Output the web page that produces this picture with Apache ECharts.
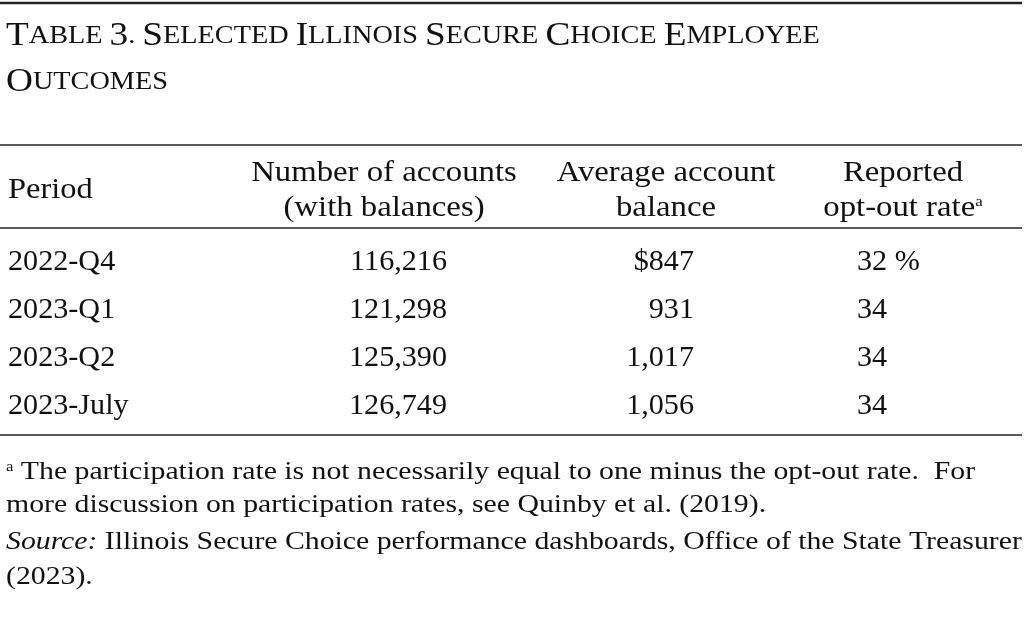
<!DOCTYPE html>
<html>
<head>
<meta charset="utf-8">
<script src="https://cdn.jsdelivr.net/npm/echarts@6/dist/echarts.min.js"></script>
<style>html,body{margin:0;padding:0;background:#fff}#main{width:1024px;height:624px}</style>
</head>
<body>
<div id="main"></div>
<script>
// table content
var titleLines = ['Table 3. Selected Illinois Secure Choice Employee', 'Outcomes'];
var periods = ['2022-Q4', '2023-Q1', '2023-Q2', '2023-July'];
var accounts = ['116,216', '121,298', '125,390', '126,749'];
var balances = ['$847', '931', '1,017', '1,056'];
var optOut = ['32 %', '34', '34', '34'];
var notes = [
    'The participation rate is not necessarily equal to one minus the opt-out rate.  For',
    'more discussion on participation rates, see Quinby et al. (2019).'
];

var FONT = '"Liberation Serif", "DejaVu Serif", serif';
var TXT = '#111';

// small caps via rich text: first letter big, rest uppercase smaller
function smallCaps(line) {
    return line.split(' ').map(function (w) {
        var first = w.charAt(0), rest = w.slice(1).toUpperCase();
        return '{b|' + first + '}' + (rest ? '{s|' + rest + '}' : '');
    }).join('{s| }');
}

// text placed at (x,y) and stretched horizontally by sx
function txt(x, y, s, align, size, sx, rich) {
    var style = {
        text: s, x: 0, y: 0, fill: TXT, font: (size || 30) + 'px ' + FONT,
        textAlign: align || 'left', textVerticalAlign: 'middle'
    };
    if (rich) style.rich = rich;
    return {type: 'text', x: x, y: y, scaleX: sx || 1.05, style: style};
}
function rule(y, w) {
    return {type: 'line', shape: {x1: 0, y1: y, x2: 1022, y2: y}, style: {stroke: '#222', lineWidth: w}};
}

var g = [];
g.push(rule(3, 2.5));
titleLines.forEach(function (l, i) {
    g.push(txt(6, 36 + i * 46, smallCaps(l), 'left', 30, 1.13, {
        b: {fontSize: 33, fontFamily: FONT, color: TXT},
        s: {fontSize: 25, fontFamily: FONT, color: TXT}
    }));
});
g.push(rule(145, 1.5));
g.push(txt(8, 190, 'Period', 'left', 29, 1.12));
g.push(txt(384, 173, 'Number of accounts', 'center', 29, 1.13));
g.push(txt(384, 208, '(with balances)', 'center', 29, 1.13));
g.push(txt(666, 173, 'Average account', 'center', 29, 1.13));
g.push(txt(666, 208, 'balance', 'center', 29, 1.13));
g.push(txt(903, 173, 'Reported', 'center', 29, 1.13));
g.push(txt(903, 208, '{n|opt-out rate}{a|a}', 'center', 29, 1.13, {
    n: {fontSize: 29, fontFamily: FONT, color: TXT},
    a: {fontSize: 15, fontFamily: FONT, color: TXT, padding: [0, 0, 12, 0]}
}));
g.push(rule(228, 1.5));
periods.forEach(function (p, i) {
    var y = 262 + i * 48;
    g.push(txt(8, y, p, 'left', 29, 1.04));
    g.push(txt(447, y, accounts[i], 'right', 29, 1.04));
    g.push(txt(694, y, balances[i], 'right', 29, 1.04));
    g.push(txt(857, y, optOut[i], 'left', 29, 1.04));
});
g.push(rule(435, 1.5));
var noteRich = {
    n: {fontSize: 25, fontFamily: FONT, color: TXT},
    i: {fontSize: 25, fontFamily: FONT, fontStyle: 'italic', color: TXT},
    a: {fontSize: 14, fontFamily: FONT, color: TXT, padding: [0, 0, 10, 0]}
};
g.push(txt(6, 472, '{a|a} {n|' + notes[0] + '}', 'left', 25, 1.19, noteRich));
g.push(txt(6, 505, '{n|' + notes[1] + '}', 'left', 25, 1.19, noteRich));
g.push(txt(6, 542, '{i|Source:} {n|Illinois Secure Choice performance dashboards, Office of the State Treasurer}', 'left', 25, 1.19, noteRich));
g.push(txt(6, 577, '{n|(2023).}', 'left', 25, 1.19, noteRich));

var chart = echarts.init(document.getElementById('main'));
chart.setOption({animation: false, graphic: g});
</script>
</body>
</html>
